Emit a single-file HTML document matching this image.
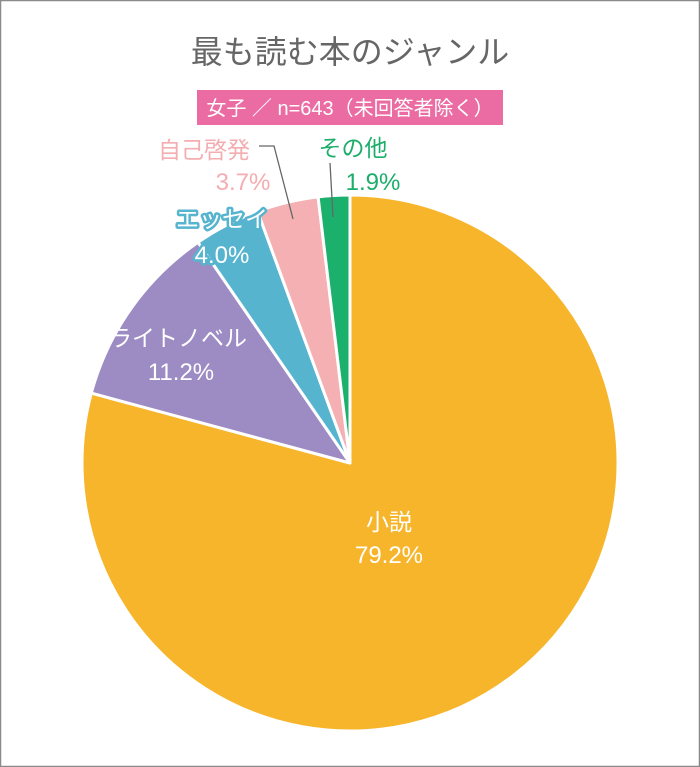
<!DOCTYPE html>
<html><head><meta charset="utf-8"><style>
html,body{margin:0;padding:0;background:#fff;}
svg{display:block;}
text{font-family:"Liberation Sans","Noto Sans CJK JP",sans-serif;}
</style></head><body>
<svg width="700" height="767" viewBox="0 0 700 767" xmlns="http://www.w3.org/2000/svg">
<rect x="0.5" y="0.5" width="699" height="766" fill="#fff" stroke="#8a8a8a" stroke-width="1.5"/>
<text x="350" y="63" text-anchor="middle" font-size="32" fill="#666">最も読む本のジャンル</text>
<rect x="197" y="90" width="306" height="35" fill="#ea6ca3"/>
<text x="350" y="115" text-anchor="middle" font-size="20" fill="#fff">女子 ／ n=643（未回答者除く）</text>
<g stroke="#fff" stroke-width="3" stroke-linejoin="round">
<path d="M350,463 L350,195 A268,268 0 1 1 91.3,393.1 Z" fill="#f7b52b"/>
<path d="M350,463 L91.3,393.1 A268,268 0 0 1 198.0,242.3 Z" fill="#9c8cc3"/>
<path d="M350,463 L198.0,242.3 A268,268 0 0 1 257.6,211.4 Z" fill="#56b4cf"/>
<path d="M350,463 L257.6,211.4 A268,268 0 0 1 318.1,196.9 Z" fill="#f4b0b2"/>
<path d="M350,463 L318.1,196.9 A268,268 0 0 1 350,195 Z" fill="#1bb16c"/>
</g>
<polyline points="259,146 274,146 293,219" fill="none" stroke="#666" stroke-width="1.3"/>
<line x1="330" y1="163" x2="333" y2="217" stroke="#666" stroke-width="1.3"/>
<text x="204" y="158" text-anchor="middle" font-size="23" fill="#f4adb0">自己啓発</text>
<text x="243" y="190" text-anchor="middle" font-size="24" fill="#f4adb0">3.7%</text>
<text x="353" y="156" text-anchor="middle" font-size="23" fill="#1bae6a">その他</text>
<text x="373" y="190" text-anchor="middle" font-size="24" fill="#1bae6a">1.9%</text>
<g font-size="23" stroke="#56b4cf" stroke-width="5" stroke-linejoin="round" fill="#fff" paint-order="stroke">
<text x="222" y="227" text-anchor="middle">エッセイ</text>
<text x="222" y="263" text-anchor="middle" font-size="24">4.0%</text>
</g>
<text x="178" y="346" text-anchor="middle" font-size="23" fill="#fff">ライトノベル</text>
<text x="181" y="380" text-anchor="middle" font-size="24" fill="#fff">11.2%</text>
<text x="389" y="530" text-anchor="middle" font-size="23" fill="#fff">小説</text>
<text x="389" y="563" text-anchor="middle" font-size="24" fill="#fff">79.2%</text>
</svg>
</body></html>
